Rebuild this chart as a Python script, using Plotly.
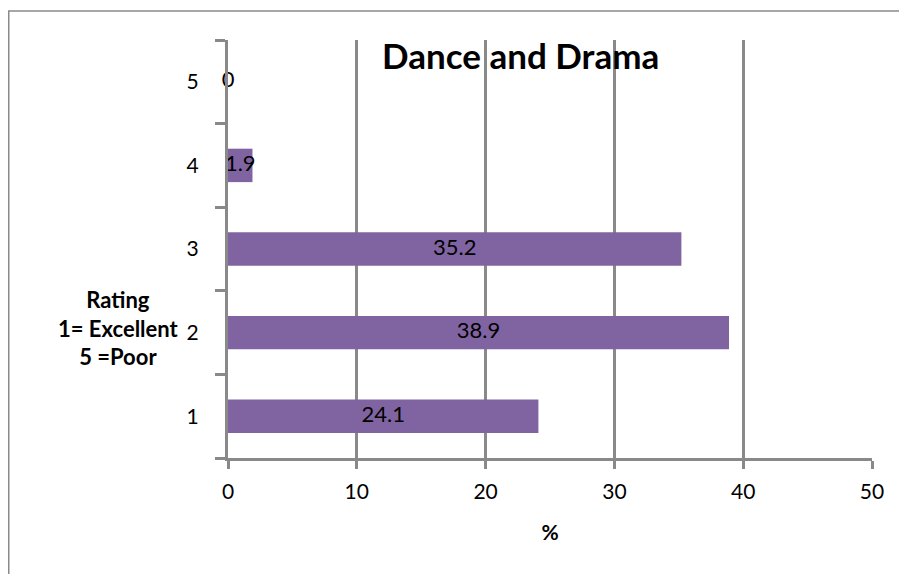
import plotly.graph_objects as go

ratings = ["1", "2", "3", "4", "5"]
percent = [24.1, 38.9, 35.2, 1.9, 0]
x_ticks = [0, 10, 20, 30, 40, 50]

GRAY = "#898989"
PURPLE = "#8064A2"
FONT = "Lato"

# plot area in figure pixels
L, T, R, B = 220, 32, 864, 450
W, H = 907, 574
PW, PH = R - L, B - T


def px(x):
    return (x - L) / PW


def py(y):
    return (B - y) / PH


fig = go.Figure()
fig.add_trace(go.Bar(
    x=percent, y=ratings, orientation="h",
    marker=dict(color=PURPLE, line=dict(width=0)),
    width=0.4, hoverinfo="skip",
))
fig.add_trace(go.Scatter(
    x=[v / 2 for v in percent], y=ratings, mode="text",
    text=[f"{v:g}" for v in percent],
    textposition="middle center",
    textfont=dict(family=FONT, size=22, color="#000000"),
    cliponaxis=False, hoverinfo="skip",
))

fig.update_layout(
    width=W, height=H,
    margin=dict(l=L, r=W - R, t=T, b=H - B),
    paper_bgcolor="white", plot_bgcolor="white",
    showlegend=False,
    font=dict(family=FONT, size=21, color="#000000"),
    xaxis=dict(
        range=[0, 50], tickvals=x_ticks, ticktext=[str(t) for t in x_ticks],
        showgrid=True, gridcolor=GRAY, gridwidth=3,
        showline=True, linecolor=GRAY, linewidth=3,
        ticks="outside", ticklen=8, tickwidth=3, tickcolor=GRAY,
        zeroline=False, fixedrange=True,
        ticklabelstandoff=5,
        title=dict(text="<b>%</b>", font=dict(size=21), standoff=24),
    ),
    yaxis=dict(
        type="category", categoryorder="array", categoryarray=ratings,
        range=[-0.5, 4.5], tickson="boundaries",
        showgrid=False, showline=True, linecolor=GRAY, linewidth=3,
        ticks="outside", ticklen=10, tickwidth=3, tickcolor=GRAY,
        ticklabelstandoff=22, zeroline=False, fixedrange=True,
    ),
    annotations=[
        dict(text="<b>Dance and Drama</b>", x=px(512), y=py(47),
             xref="paper", yref="paper", xanchor="center", yanchor="middle",
             showarrow=False, font=dict(size=35)),
        dict(text="<b>Rating<br>1= Excellent<br>5 =Poor</b>", xref="paper", yref="paper",
             x=px(110), y=py(320), xanchor="center", yanchor="middle",
             showarrow=False, align="center", font=dict(size=22)),
    ],
    shapes=[dict(type="rect", xref="paper", yref="paper",
                 x0=px(0.75), x1=px(W + 20),
                 y0=py(H + 20), y1=py(3),
                 line=dict(color="#8a8a8a", width=1.5), layer="below")],
)

fig.write_html("out.html")
